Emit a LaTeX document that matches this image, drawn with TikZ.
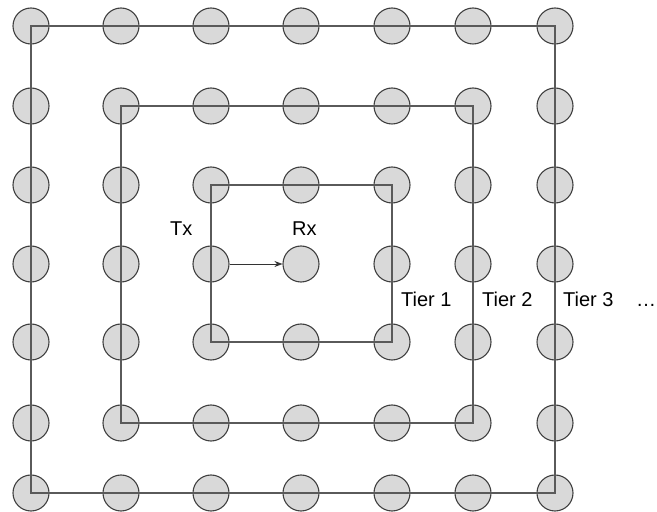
\documentclass[tikz,border=0pt]{standalone}
\usepackage{fontspec}
\setmainfont{Liberation Sans}
\usetikzlibrary{arrows.meta}
\definecolor{cfill}{HTML}{D9D9D9}
\definecolor{cline}{HTML}{404040}
\definecolor{tline}{HTML}{5A5A5A}
\begin{document}
\begin{tikzpicture}[x=1pt,y=1pt,
  dot/.style={circle,draw=cline,fill=cfill,line width=1.1pt,minimum size=36pt,inner sep=0pt},
  tier/.style={draw=tline,line width=1.4pt},
  lbl/.style={font=\fontsize{20}{24}\selectfont,anchor=base west,inner sep=0pt}]
\useasboundingbox (0,0) rectangle (657,512);
\foreach \c/\x in {1/31,2/121,3/211,4/301,5/392,6/473,7/555}{
  \foreach \r/\y in {1/26,2/106,3/185,4/264,5/342,6/423,7/493}{
    \node[dot] (n\r\c) at (\x,512-\y) {};
  }
}
\draw[tier] (n11.center) -- (n17.center) -- (n77.center) -- (n71.center) -- cycle;
\draw[tier] (n22.center) -- (n26.center) -- (n66.center) -- (n62.center) -- cycle;
\draw[tier] (n33.center) -- (n35.center) -- (n55.center) -- (n53.center) -- cycle;
\draw[-{Stealth[length=8pt,width=6pt]},line width=0.8pt,color=black!80] (n43.east) -- (n44.west);
\node[lbl] (tx) at (170,512-236) {Tx};
\node[lbl] (rx) at (292,512-236) {Rx};
\node[lbl] (t1) at (401,512-307) {Tier 1};
\node[lbl] (t2) at (482,512-307) {Tier 2};
\node[lbl] (t3) at (563,512-307) {Tier 3};
\node[lbl] (dd) at (636,512-307) {…};
\end{tikzpicture}
\end{document}
